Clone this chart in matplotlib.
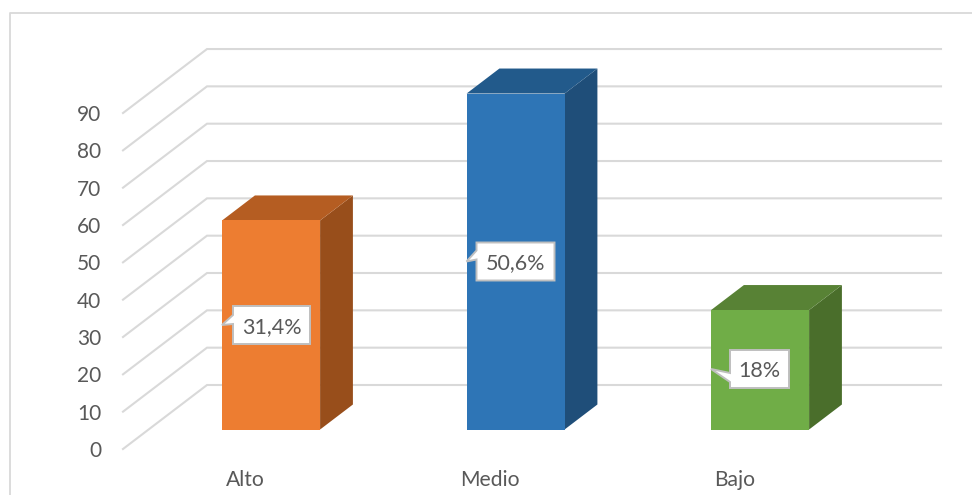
import matplotlib
matplotlib.use("Agg")
import matplotlib.pyplot as plt
from matplotlib.lines import Line2D
from matplotlib.patches import Polygon

categories = ["Alto", "Medio", "Bajo"]
values = [56, 90, 32]
labels = ["31,4%", "50,6%", "18%"]
ticks = list(range(0, 100, 10))

front_colors = ["#ED7D31", "#2E75B6", "#70AD47"]
top_colors = ["#B55D22", "#225A8B", "#588235"]
side_colors = ["#984E1B", "#1F4E79", "#4A6E2B"]

TEXT = "#595959"
GRID = "#D9D9D9"
W, H = 972, 495
plt.rcParams["font.family"] = ["Lato", "DejaVu Sans"]

fig = plt.figure(figsize=(W / 100, H / 100), dpi=100, facecolor="white")
L, R, T, B = 123, 941, 49, 449
ax = fig.add_axes([L / W, 1 - B / H, (R - L) / W, (B - T) / H])
PX_PER_CAT = 244.5
PX_PER_UNIT = 3.733
X0 = 245.5                      # pixel x of category 0 on the front plane
ax.set_xlim((L - X0) / PX_PER_CAT, (R - X0) / PX_PER_CAT)
ax.set_ylim(0, (B - T) / PX_PER_UNIT)
ax.patch.set_visible(False)
for s in ax.spines.values():
    s.set_visible(False)

DX, DY = 84 / PX_PER_CAT, 64 / PX_PER_UNIT   # floor depth in data units


def proj(c, v, d):
    """Oblique projection of category c, value v at depth d (0 front, 1 back)."""
    return (c + d * DX, v + d * DY)


# Gridlines: oblique wall segment, then back wall
xmin, xmax = ax.get_xlim()
for v in ticks:
    x1, y1 = proj(xmin, v, 0)
    x2, y2 = proj(xmin, v, 1)
    ax.plot([x1, x2, xmax], [y1, y2, y2], color=GRID, lw=1.5,
            solid_joinstyle="miter", clip_on=False, zorder=1)

# Bars
HALF = 49 / PX_PER_CAT
D0, D1 = 19.5 / 64, 44.5 / 64
for i, v in enumerate(values):
    a, b = i - HALF, i + HALF
    front = [proj(a, 0, D0), proj(b, 0, D0), proj(b, v, D0), proj(a, v, D0)]
    side = [proj(b, 0, D0), proj(b, 0, D1), proj(b, v, D1), proj(b, v, D0)]
    top = [proj(a, v, D0), proj(b, v, D0), proj(b, v, D1), proj(a, v, D1)]
    ax.add_patch(Polygon(side, fc=side_colors[i], ec="none", clip_on=False, zorder=3))
    ax.add_patch(Polygon(top, fc=top_colors[i], ec="none", clip_on=False, zorder=3))
    ax.add_patch(Polygon(front, fc=front_colors[i], ec="none", clip_on=False, zorder=4))

# Data-label callouts, placed by bar (pixel offsets from the bar's front-left base)
box_w = [77, 78, 59]
box_dx = [11, 10, 19]
box_cy = [325, 261.5, 369]      # pixel y of the callout centre
tail_top = [-10, -11, 4]
tail_bot = [-1, -2, 13]
BOX_H = 38


def px(x, y):
    return ((x - X0) / PX_PER_CAT, (B - y) / PX_PER_UNIT)


for i, lab in enumerate(labels):
    left = X0 + PX_PER_CAT * i + 25.5 - 49
    x0 = left + box_dx[i]
    x1 = x0 + box_w[i]
    cy = box_cy[i]
    y0, y1 = cy - BOX_H / 2, cy + BOX_H / 2
    pts = [(x0, y0), (x1, y0), (x1, y1), (x0, y1),
           (x0, cy + tail_bot[i]), (left, cy), (x0, cy + tail_top[i])]
    ax.add_patch(Polygon([px(*p) for p in pts], fc="white", ec="#BFBFBF", lw=1.4,
                         joinstyle="miter", clip_on=False, zorder=5))
    tx, ty = px((x0 + x1) / 2, cy)
    ax.text(tx, ty, lab, ha="center", va="center_baseline", color=TEXT,
            fontsize=15.5, zorder=6)

ax.set_yticks(ticks)
ax.set_yticklabels([str(t) for t in ticks])
ax.set_xticks(range(len(categories)))
ax.set_xticklabels(categories)
ax.tick_params(axis="y", length=0, pad=15.5, labelsize=15, labelcolor=TEXT)
ax.tick_params(axis="x", length=0, pad=15, labelsize=15.2, labelcolor=TEXT)

# Chart-area border
fig.add_artist(Line2D([10 / W, 10 / W, 1], [0, 1 - 12.5 / H, 1 - 12.5 / H],
                      color=GRID, lw=1.3, transform=fig.transFigure))

fig.savefig("out.png", dpi=100, facecolor="white")
